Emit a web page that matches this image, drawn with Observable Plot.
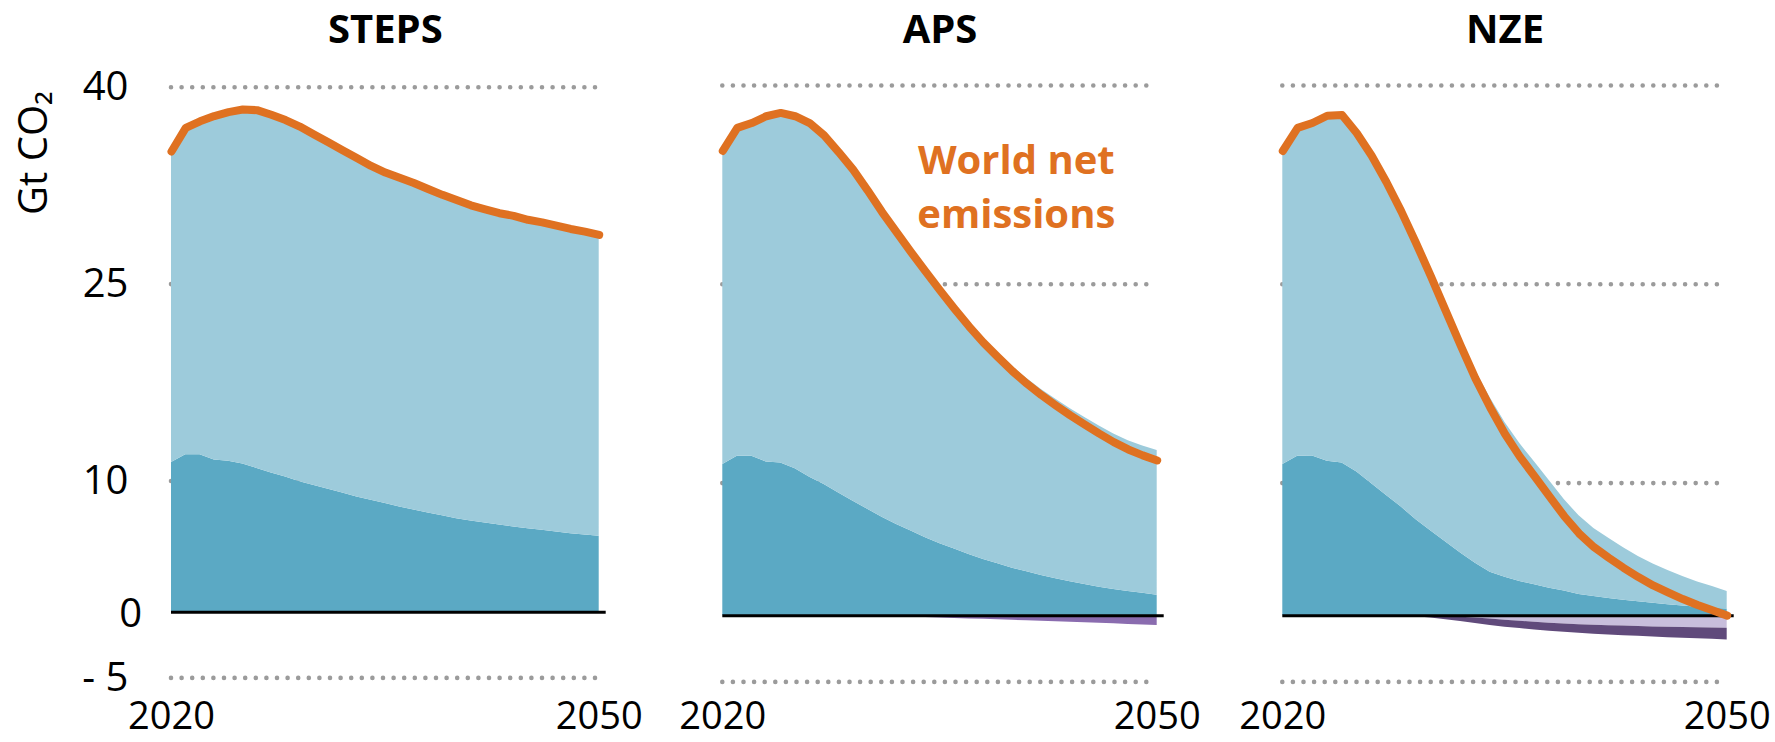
<!DOCTYPE html>
<html>
<head>
<meta charset="utf-8">
<script src="https://cdn.jsdelivr.net/npm/d3@7"></script>
<script src="https://cdn.jsdelivr.net/npm/@observablehq/plot@0.6"></script>
<style>
  html, body { margin: 0; padding: 0; background: #fff; }
  #wrap { position: relative; width: 1775px; height: 742px; overflow: hidden; }
  .panel { position: absolute; top: 0; }
</style>
</head>
<body>
<div id="wrap"></div>
<script>
// ---------- data (Gt CO2) ----------
const years = [2020, 2021, 2022, 2023, 2024, 2025, 2026, 2027, 2028, 2029, 2030,
  2031, 2032, 2033, 2034, 2035, 2036, 2037, 2038, 2039, 2040,
  2041, 2042, 2043, 2044, 2045, 2046, 2047, 2048, 2049, 2050];

const scenarios = ["STEPS", "APS", "NZE"];
const yTicks = [40, 25, 10, 0, -5];
const xTicks = [2020, 2050];
const annotation = "World net\nemissions";
const yLabel = "Gt CO\u2082";

// World net emissions (orange line)
const stepsNet = [35.1, 36.9, 37.4, 37.8, 38.1, 38.3, 38.25, 37.9, 37.5, 37.0, 36.4,
  35.8, 35.2, 34.6, 34.0, 33.5, 33.1, 32.7, 32.25, 31.8, 31.4,
  31.0, 30.7, 30.4, 30.2, 29.9, 29.7, 29.45, 29.2, 29.0, 28.75];
const apsNet = [35.06, 36.8, 37.17, 37.68, 37.93, 37.68, 37.17, 36.24, 34.98, 33.65, 32.09,
  30.45, 28.94, 27.43, 25.98, 24.54, 23.16, 21.83, 20.6, 19.51, 18.45,
  17.5, 16.64, 15.86, 15.11, 14.41, 13.73, 13.09, 12.54, 12.09, 11.71];
const nzeNet = [35.06, 36.8, 37.17, 37.72, 37.77, 36.4, 34.7, 32.7, 30.5, 28.1, 25.6,
  23.0, 20.4, 17.9, 15.7, 13.7, 12.0, 10.5, 9.0, 7.5, 6.2,
  5.17, 4.37, 3.61, 2.91, 2.28, 1.75, 1.25, 0.8, 0.4, 0.0];

// Lower (dark teal) component
const stepsDark = [11.4, 12.0, 12.0, 11.6, 11.5, 11.3, 10.95, 10.6, 10.3, 9.95, 9.65,
  9.37, 9.09, 8.78, 8.53, 8.28, 8.02, 7.79, 7.56, 7.36, 7.13,
  6.95, 6.8, 6.65, 6.5, 6.37, 6.24, 6.11, 5.99, 5.88, 5.8];
const apsDark = [11.41, 12.02, 12.02, 11.59, 11.51, 11.09, 10.45, 9.9, 9.25, 8.64, 8.02,
  7.43, 6.88, 6.38, 5.88, 5.42, 5.02, 4.62, 4.24, 3.92, 3.58,
  3.31, 3.03, 2.78, 2.56, 2.35, 2.15, 1.98, 1.83, 1.68, 1.53];
const nzeDark = [11.41, 12.02, 12.04, 11.64, 11.51, 10.83, 9.95, 9.07, 8.19, 7.23, 6.38,
  5.55, 4.72, 3.96, 3.28, 2.9, 2.58, 2.33, 2.07, 1.85, 1.6,
  1.45, 1.3, 1.17, 1.05, 0.93, 0.82, 0.72, 0.63, 0.56, 0.5];

// Carbon removals (magnitude, drawn below zero)
const stepsRemovalsA = [0, 0, 0, 0, 0, 0, 0, 0, 0, 0, 0,
  0, 0, 0, 0, 0, 0, 0, 0, 0, 0,
  0, 0, 0, 0, 0, 0, 0, 0, 0, 0];
const stepsRemovalsB = stepsRemovalsA;
const apsRemovalsA = [0, 0, 0, 0, 0, 0, 0, 0, 0, 0.01, 0.03,
  0.05, 0.08, 0.11, 0.14, 0.18, 0.21, 0.25, 0.28, 0.32, 0.35,
  0.39, 0.42, 0.46, 0.5, 0.54, 0.58, 0.62, 0.66, 0.71, 0.75];
const apsRemovalsB = [0, 0, 0, 0, 0, 0, 0, 0, 0, 0, 0,
  0, 0, 0, 0, 0, 0, 0, 0, 0, 0,
  0, 0, 0, 0, 0, 0, 0, 0, 0, 0];
const nzeRemovalsA = [0, 0, 0, 0, 0, 0, 0, 0, 0, 0, 0.03,
  0.07, 0.12, 0.18, 0.26, 0.34, 0.42, 0.5, 0.57, 0.63, 0.68,
  0.72, 0.76, 0.79, 0.82, 0.85, 0.88, 0.9, 0.92, 0.94, 0.96];
const nzeRemovalsB = [0, 0, 0, 0, 0, 0, 0, 0, 0.03, 0.08, 0.15,
  0.24, 0.33, 0.42, 0.48, 0.53, 0.56, 0.59, 0.61, 0.63, 0.65,
  0.68, 0.7, 0.72, 0.74, 0.76, 0.78, 0.8, 0.82, 0.85, 0.87];

// ---------- styling / layout ----------
const C = {
  light: "#9dcbdb", dark: "#5ba9c4", orange: "#df7121",
  grid: "#9b9b9b", remA: "#c8bedc", remB: "#604a7b", remAPS: "#8a6caf"
};
const FONT = "'Open Sans', 'Noto Sans', sans-serif";

const layout = {
  STEPS: {left: 0, width: 650, frameL: 171, frameR: 598.7, frameT: 86.7, frameB: 677.4, net: stepsNet, dark: stepsDark, remA: stepsRemovalsA, remB: stepsRemovalsB, remAColor: C.remA},
  APS:   {left: 650, width: 555, frameL: 722.3, frameR: 1156.7, frameT: 85, frameB: 681.4, net: apsNet, dark: apsDark, remA: apsRemovalsA, remB: apsRemovalsB, remAColor: C.remAPS},
  NZE:   {left: 1205, width: 570, frameL: 1282.3, frameR: 1726.7, frameT: 85, frameB: 681.4, net: nzeNet, dark: nzeDark, remA: nzeRemovalsA, remB: nzeRemovalsB, remAColor: C.remA}
};

const wrap = document.getElementById("wrap");

scenarios.forEach((name, idx) => {
  const L = layout[name];
  const rows = years.map((year, i) => ({
    year, net: L.net[i], dark: L.dark[i], remA: L.remA[i], remB: L.remB[i]
  }));
  const H = 742;
  const marks = [
    Plot.gridY(yTicks.filter(d => d !== 0), {
      stroke: C.grid, strokeOpacity: 1, strokeWidth: 4.6,
      strokeDasharray: "0,10.6", strokeLinecap: "round"
    }),
    Plot.areaY(rows, {x: "year", y1: 0, y2: "dark", fill: C.dark}),
    Plot.areaY(rows, {x: "year", y1: "dark", y2: d => d.net + d.remA + d.remB, fill: C.light}),
    Plot.areaY(rows, {x: "year", y1: 0, y2: d => -d.remA, fill: L.remAColor}),
    Plot.areaY(rows, {x: "year", y1: d => -d.remA, y2: d => -(d.remA + d.remB), fill: C.remB}),
    Plot.ruleY([0], {stroke: "#000", strokeWidth: 3, insetRight: -7}),
    Plot.line(rows, {x: "year", y: "net", stroke: C.orange, strokeWidth: 8,
      strokeLinecap: "round", strokeLinejoin: "round"}),
    Plot.axisX(xTicks, {tickSize: 0, tickPadding: 702 - L.frameB,
      tickFormat: d => String(d), fontSize: 38, fill: "#000"}),
    Plot.text([name], {text: d => d, frameAnchor: "top", lineAnchor: "bottom",
      dy: 42.7 - L.frameT, fontSize: 40, fontWeight: "bold", fill: "#000"})
  ];
  if (idx === 0) {
    marks.push(
      Plot.axisY(yTicks.filter(d => d !== 0), {tickSize: 0, tickPadding: 43,
        tickFormat: d => d < 0 ? "- " + Math.abs(d) : String(d), fontSize: 40, fill: "#000"}),
      Plot.axisY(yTicks.filter(d => d === 0), {tickSize: 0, tickPadding: 29.3,
        tickFormat: d => String(d), fontSize: 40, fill: "#000", dy: 2}),
      Plot.text([yLabel], {text: d => d, frameAnchor: "top-left", rotate: -90,
        lineAnchor: "bottom", textAnchor: "middle", dx: 46.7 - L.frameL, dy: 152.5 - L.frameT,
        fontSize: 40, fill: "#000"})
    );
  }
  if (name === "APS") {
    marks.push(Plot.text([annotation], {text: d => d, frameAnchor: "top", lineAnchor: "bottom",
      dx: 1015.8 - (L.frameL + L.frameR) / 2, dy: 227.5 - L.frameT, lineHeight: 1.36,
      fontSize: 40, fontWeight: "bold", fill: C.orange}));
  }
  const chart = Plot.plot({
    width: L.width,
    height: H,
    marginLeft: L.frameL - L.left,
    marginRight: L.left + L.width - L.frameR,
    marginTop: L.frameT,
    marginBottom: H - L.frameB,
    x: {domain: [2020, 2050], label: null},
    y: {domain: [-5, 40], label: null, axis: idx === 0 ? undefined : null},
    style: {background: "transparent", overflow: "visible", fontFamily: FONT, color: "#000"},
    marks
  });
  const div = document.createElement("div");
  div.className = "panel";
  div.style.left = L.left + "px";
  div.style.width = L.width + "px";
  div.appendChild(chart);
  wrap.appendChild(div);
});
</script>
</body>
</html>
